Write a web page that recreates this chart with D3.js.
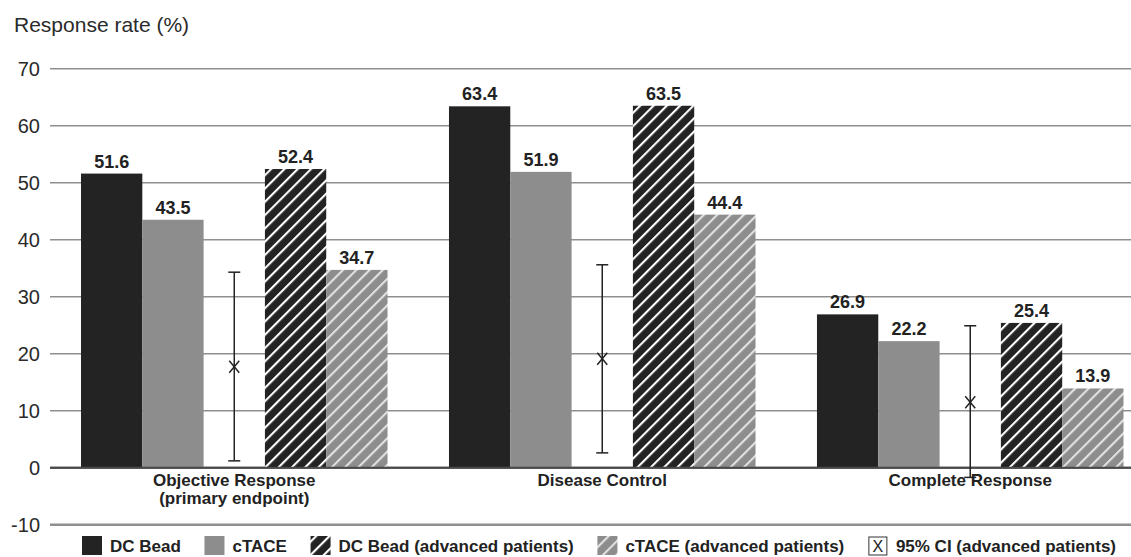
<!DOCTYPE html>
<html><head><meta charset="utf-8">
<script src="https://cdn.jsdelivr.net/npm/d3@7"></script>
<style>
body{margin:0;background:#fff;}
svg{display:block;font-family:"Liberation Sans",Arial,Helvetica,sans-serif;}
</style></head>
<body><svg id="c" width="1131" height="557"></svg>
<script>
const categories = [["Objective Response","(primary endpoint)"],["Disease Control"],["Complete Response"]];
const catKeys = ["Objective Response","Disease Control","Complete Response"];
const dcBead = [51.6, 63.4, 26.9];
const cTACE = [43.5, 51.9, 22.2];
const dcBeadAdv = [52.4, 63.5, 25.4];
const cTACEAdv = [34.7, 44.4, 13.9];
const ciMid = [17.7, 19.1, 11.5];
const ciLow = [1.2, 2.6, -1.7];
const ciHigh = [34.3, 35.6, 24.9];
const yTicks = [-10, 0, 10, 20, 30, 40, 50, 60, 70];
const legendLabels = ["DC Bead","cTACE","DC Bead (advanced patients)","cTACE (advanced patients)","95% CI (advanced patients)"];

const svg = d3.select("#c");
const dark = "#232323", gray = "#8d8d8d";

const defs = svg.append("defs");
function hatch(id, bg, fg){
  const p = defs.append("pattern").attr("id", id).attr("patternUnits","userSpaceOnUse")
    .attr("width", 9.4).attr("height", 9.4).attr("patternTransform","rotate(45)");
  p.append("rect").attr("width",9.4).attr("height",9.4).attr("fill",bg);
  p.append("rect").attr("x",0).attr("width",2.1).attr("height",9.4).attr("fill",fg);
}
hatch("hDark", dark, "#ffffff");
hatch("hGray", gray, "#e2e2e2");

const y = d3.scaleLinear().domain([-10, 70]).range([524.7, 68.7]);
const x0 = d3.scaleBand().domain(catKeys).range([81, 1123.5]).paddingInner(0.167).paddingOuter(0);
const slots = ["dc","ct","ci","dcA","ctA"];
const x1 = d3.scaleBand().domain(slots).range([0, x0.bandwidth()]);

// grid
const grid = svg.append("g");
grid.selectAll("line").data(yTicks).join("line")
  .attr("x1", 50).attr("x2", 1131)
  .attr("y1", d => y(d)).attr("y2", d => y(d))
  .attr("stroke", d => d === 0 ? "#4a4a4a" : "#8f8f8f")
  .attr("stroke-width", d => d === 0 ? 2 : (d === -10 ? 2.6 : 1.4));

// y axis labels via axis
const yAxis = d3.axisLeft(y).tickValues(yTicks).tickSize(0).tickPadding(0).tickFormat(d => String(d));
const ga = svg.append("g").attr("transform","translate(40,0)").call(yAxis);
ga.select(".domain").remove();
ga.selectAll("text").attr("font-size", 20).attr("fill", "#2a2a2a")
  .attr("font-family", '"Liberation Sans",Arial,sans-serif');

svg.append("text").attr("x", 14).attr("y", 32).attr("font-size", 21).attr("fill","#2a2a2a")
  .text("Response rate (%)");

const series = [
  {key:"dc", vals: dcBead, fill: dark},
  {key:"ct", vals: cTACE, fill: gray},
  {key:"dcA", vals: dcBeadAdv, fill: "url(#hDark)"},
  {key:"ctA", vals: cTACEAdv, fill: "url(#hGray)"}
];

const gBars = svg.append("g");
series.forEach(s => {
  s.vals.forEach((v, i) => {
    const bx = x0(catKeys[i]) + x1(s.key);
    gBars.append("rect").attr("x", bx).attr("y", y(v))
      .attr("width", x1.bandwidth()).attr("height", y(0) - y(v)).attr("fill", s.fill);
    gBars.append("text").attr("x", bx + x1.bandwidth()/2).attr("y", y(v) - 6)
      .attr("text-anchor","middle").attr("font-size", 18).attr("font-weight","bold")
      .attr("fill","#222").text(v.toFixed(1));
  });
});
// redraw zero line over bars
svg.append("line").attr("x1",50).attr("x2",1131).attr("y1",y(0)).attr("y2",y(0))
  .attr("stroke","#4a4a4a").attr("stroke-width",2);

// CI
const gCI = svg.append("g").attr("stroke","#222").attr("stroke-width",1.5).attr("fill","none");
catKeys.forEach((c, i) => {
  const cx = x0(c) + x1("ci") + x1.bandwidth()/2;
  gCI.append("line").attr("x1",cx).attr("x2",cx).attr("y1",y(ciHigh[i])).attr("y2",y(ciLow[i]));
  gCI.append("line").attr("x1",cx-6).attr("x2",cx+6).attr("y1",y(ciHigh[i])).attr("y2",y(ciHigh[i]));
  gCI.append("line").attr("x1",cx-6).attr("x2",cx+6).attr("y1",y(ciLow[i])).attr("y2",y(ciLow[i]));
  const m = y(ciMid[i]);
  gCI.append("line").attr("x1",cx-5).attr("x2",cx+5).attr("y1",m-6).attr("y2",m+6);
  gCI.append("line").attr("x1",cx+5).attr("x2",cx-5).attr("y1",m-6).attr("y2",m+6);
});

// category labels
categories.forEach((lines, i) => {
  const cx = x0(catKeys[i]) + x0.bandwidth()/2;
  const t = svg.append("text").attr("x", cx).attr("y", 486).attr("text-anchor","middle")
    .attr("font-size", 17).attr("font-weight","bold").attr("fill","#222");
  lines.forEach((l, j) => t.append("tspan").attr("x", cx).attr("dy", j === 0 ? 0 : 18).text(l));
});

// legend
const lg = svg.append("g");
const sw = 20, swGap = 8, ly = 536, lStart = 82, lEnd = 1116;
const fills = [dark, gray, "url(#hDark)", "url(#hGray)", null];
const items = legendLabels.map((l, i) => {
  const t = lg.append("text").attr("y", ly + 16).attr("font-size", 17).attr("font-weight","bold")
    .attr("fill","#222").text(l);
  return {t, w: t.node().getComputedTextLength(), i};
});
const totalW = items.reduce((a, it) => a + sw + swGap + it.w, 0);
const gap = (lEnd - lStart - totalW) / (items.length - 1);
let cx = lStart;
items.forEach(it => {
  if (fills[it.i]) {
    lg.append("rect").attr("x", cx).attr("y", ly).attr("width", sw).attr("height", 19).attr("fill", fills[it.i]);
  } else {
    lg.append("rect").attr("x", cx + 1).attr("y", ly + 1).attr("width", 18).attr("height", 18)
      .attr("fill","#fff").attr("stroke","#333").attr("stroke-width",1);
    lg.append("text").attr("x", cx + 10).attr("y", ly + 16).attr("text-anchor","middle")
      .attr("font-size", 16).attr("fill","#222").text("X");
  }
  it.t.attr("x", cx + sw + swGap);
  cx += sw + swGap + it.w + gap;
});
</script></body></html>
